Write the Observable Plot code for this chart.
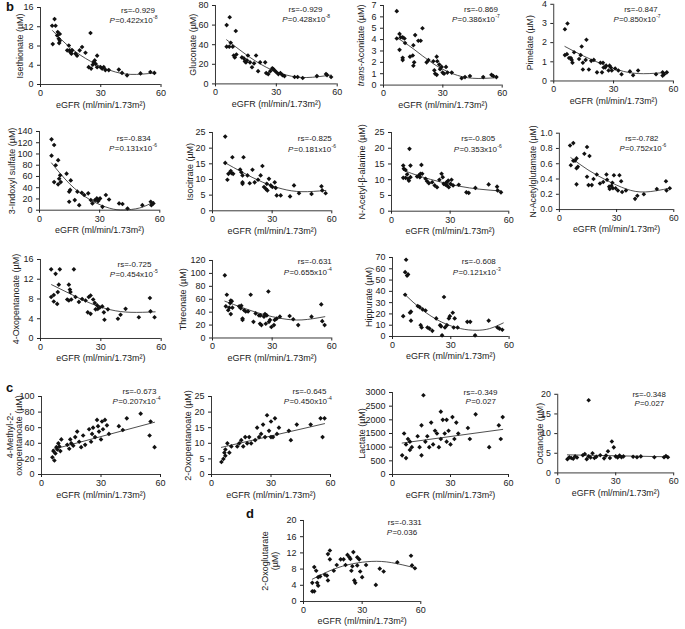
<!DOCTYPE html>
<html><head><meta charset="utf-8">
<script src="https://cdn.jsdelivr.net/npm/d3@7"></script>
<script src="https://cdn.jsdelivr.net/npm/@observablehq/plot@0.6"></script>
<style>
body{margin:0;background:#fff;}
#root{position:relative;width:685px;height:629px;overflow:hidden;font-family:"Liberation Sans",Arial,sans-serif;}
.panel{position:absolute;}
.tag{position:absolute;font-weight:bold;font-size:13px;line-height:13px;color:#111;}
</style></head><body><div id="root"></div>
<script>
// ---------------- DATA ----------------
const isethionate = [[5.8,12.2],[7.0,13.6],[7.5,12.2],[6.1,8.4],[8.6,10.9],[9.6,10.5],[8.3,10.2],[9.1,9.5],[9.3,8.6],[9.6,9.1],[14.1,8.1],[13.3,7.1],[14.4,7.1],[14.9,6.7],[15.8,7.1],[15.4,6.4],[17.4,6.4],[18.2,6.0],[19.5,7.1],[20.7,7.8],[22.4,6.6],[24.9,10.7],[24.0,3.6],[25.2,3.3],[26.0,4.1],[26.5,4.7],[27.0,5.0],[27.4,4.3],[28.2,6.0],[28.2,3.6],[29.9,3.6],[30.7,3.3],[31.5,3.6],[32.3,3.0],[34.0,3.0],[39.0,3.1],[40.6,2.4],[43.1,1.9],[49.8,2.3],[54.7,2.6],[56.7,2.4]];
const isethionateFit = [[6,11.2],[15,7.6],[25,4.8],[35,2.9],[45,2.1],[57,2.4]];

const gluconate = [[5.5,60],[7,68],[5.5,38],[6.8,38],[7.5,42],[8.5,38],[9,29],[9.5,27],[10,54],[10.3,30],[13,27],[14,26],[14.5,23],[15,22],[15.5,24],[16,29],[17,22],[18,17],[19,21],[20,29],[21,13],[22,22],[24.5,22],[25,11],[26,10],[27,13],[28,16],[28.5,15],[29,14],[30,12],[31,10],[32,11],[33,9],[34,8],[39,7],[40.5,7],[43,6],[50,8],[54.5,10],[55,9],[57,7]];
const gluconateFit = [[5.5,45],[15,30],[25,17],[35,9],[45,6.5],[57,9]];

const transAconitate = [[6.7,6.5],[6.7,4.1],[8.1,4.5],[8.7,4.2],[9.7,4.2],[10.6,4.1],[8.1,3.1],[9.7,2.4],[9.7,2.2],[10.9,3.7],[13.4,2.5],[14.8,2.6],[15.5,2.0],[15.1,1.7],[15.1,3.5],[16.0,4.4],[17.6,3.9],[18.8,3.9],[19.7,5.0],[21.8,2.0],[22.7,2.2],[25.2,2.1],[26.9,2.5],[27.2,2.1],[25.7,1.3],[26.1,1.0],[26.9,0.9],[28.2,1.8],[28.6,1.4],[29.4,1.6],[29.9,1.1],[30.6,1.0],[31.6,1.6],[32.3,1.1],[34.5,1.1],[39.5,0.6],[41.2,0.7],[43.7,0.8],[50.4,0.7],[54.6,0.9],[55.5,0.8],[57.1,0.7]];
const transAconitateFit = [[6.5,4.2],[15,3.2],[25,1.9],[35,1.0],[45,0.6],[57,0.65]];

const pimelate = [[5.6,2.7],[6.9,3.0],[5.6,1.35],[6.6,1.4],[7.7,1.2],[8.6,1.2],[9.0,1.1],[9.4,0.95],[10.2,1.5],[12.7,1.15],[13.5,1.35],[14.0,1.8],[14.6,0.95],[14.6,0.6],[16.4,2.15],[16.0,1.1],[17.6,0.6],[18.8,1.05],[20.1,1.1],[21.7,0.45],[24.2,0.45],[23.4,0.95],[24.7,0.95],[25.0,0.7],[25.8,0.7],[26.3,0.8],[27.5,0.55],[28.0,0.8],[28.6,0.7],[29.1,0.55],[30.8,0.65],[32.4,0.55],[34.0,0.35],[38.2,0.5],[39.8,0.3],[42.3,0.55],[51.3,0.35],[54.6,0.45],[55.4,0.35],[56.7,0.45],[54.6,0.28]];
const pimelateFit = [[5.6,1.8],[15,1.3],[25,0.85],[35,0.5],[45,0.38],[57,0.45]];

const indoxylSulfate = [[6.0,126],[7.3,116],[6.0,97],[7.3,50],[8.1,80],[9.3,89],[9.3,46],[9.8,56],[10.3,62],[10.6,50],[13.5,65],[14.8,33],[15.3,36],[14.8,15],[15.6,53],[17.6,18],[18.9,33],[19.8,9],[21.1,31],[22.3,27],[24.3,30],[25.6,18],[26.4,12],[27.7,18],[28.6,21],[29.7,19],[30.2,21],[29.2,16],[31.4,6],[33.1,27],[34.7,19],[39.7,12],[41.4,11],[43.9,3],[51.3,9],[55.5,15],[56.8,12],[55.8,9]];
const indoxylSulfateFit = [[6,84],[15,47],[25,19],[35,3.5],[42,0.5],[50,4],[57,15]];

const isocitrate = [[6.4,23.7],[6.4,15.3],[7.5,9.9],[8.0,11.8],[8.9,12.3],[9.7,12.0],[10.0,17.1],[10.4,11.8],[9.2,12.7],[13.9,13.2],[14.5,12.3],[15.1,11.3],[15.6,17.1],[15.1,9.1],[15.1,8.6],[17.6,11.3],[18.7,8.8],[20.1,13.1],[21.2,9.1],[22.9,9.9],[24.2,11.3],[25.1,14.3],[25.9,7.6],[26.8,7.0],[27.6,6.5],[27.3,8.6],[28.4,10.2],[29.3,8.1],[30.1,7.6],[31.3,9.1],[32.3,4.9],[34.3,4.9],[31.8,7.3],[39.0,4.6],[41.0,8.1],[43.5,5.6],[49.8,5.4],[54.8,7.8],[55.2,6.5],[56.9,5.6]];
const isocitrateFit = [[6.4,15.3],[15,12.3],[25,9.2],[35,7.0],[45,6.1],[57,6.5]];

const acetylBetaAlanine = [[6.0,14.5],[6.3,13.5],[7.2,13.1],[6.0,10.6],[7.2,10.6],[8.0,11.7],[8.9,9.7],[9.2,19.8],[9.7,14.5],[8.5,10.3],[9.7,10.8],[13.1,11.0],[14.0,11.3],[14.8,11.9],[14.5,10.8],[15.3,14.7],[15.7,11.9],[17.4,10.3],[18.2,9.5],[19.1,8.9],[20.8,9.2],[22.1,8.2],[23.3,7.6],[24.5,10.0],[25.6,11.9],[26.2,10.8],[26.7,8.7],[27.6,8.4],[28.1,9.2],[28.4,8.2],[29.0,9.7],[29.3,7.6],[30.2,8.7],[30.7,10.0],[31.5,8.2],[34.4,8.4],[38.3,6.0],[39.5,5.8],[42.9,7.4],[49.7,8.5],[54.0,7.8],[54.3,6.6],[56.0,6.0]];
const acetylBetaAlanineFit = [[6,13.0],[15,11.0],[25,9.3],[35,7.9],[45,7.0],[56,6.4]];

const acetylglutamate = [[5.6,0.84],[7.3,0.87],[6.0,0.58],[7.3,0.64],[8.2,0.64],[9.0,0.67],[9.0,0.54],[9.7,0.56],[9.0,0.33],[13.1,0.73],[14.5,0.82],[15.8,0.70],[14.5,0.43],[15.3,0.32],[17.0,0.32],[17.9,0.40],[19.6,0.46],[21.3,0.34],[23.0,0.36],[24.7,0.46],[25.0,0.39],[26.1,0.30],[26.4,0.27],[27.3,0.31],[27.8,0.35],[28.6,0.45],[28.1,0.28],[29.5,0.28],[30.7,0.25],[31.5,0.45],[32.4,0.37],[32.9,0.23],[34.9,0.25],[39.7,0.14],[40.9,0.18],[44.3,0.20],[51.1,0.27],[55.9,0.37],[56.2,0.25],[57.9,0.28]];
const acetylglutamateFit = [[6,0.68],[15,0.52],[25,0.38],[35,0.27],[45,0.23],[57.9,0.28]];

const oxopentanoate4 = [[5.3,14.0],[7.5,13.1],[9.6,14.0],[16.6,14.0],[5.3,8.4],[6.6,8.8],[6.6,7.5],[8.3,7.0],[8.6,9.4],[9.1,10.9],[14.1,10.9],[14.6,9.9],[14.9,9.4],[13.3,7.9],[14.1,7.7],[15.3,7.9],[17.4,8.4],[19.1,7.4],[20.7,8.0],[22.4,7.7],[23.5,5.3],[24.9,5.0],[24.0,8.4],[24.9,8.7],[26.2,7.9],[27.0,7.2],[27.4,5.9],[28.2,6.7],[28.5,6.0],[29.5,6.3],[30.7,6.5],[31.5,5.3],[31.8,3.8],[33.5,5.9],[38.5,4.0],[39.8,4.8],[42.3,6.0],[48.9,4.3],[54.4,8.2],[54.7,5.5],[56.7,4.3]];
const oxopentanoate4Fit = [[5.5,10.9],[15,9.0],[25,7.1],[35,5.8],[45,5.3],[57,5.4]];

const threonate = [[6.2,97],[6.7,49],[7.2,67],[7.9,43],[8.9,54],[9.2,58],[9.7,57],[9.2,37],[10.0,47],[8.4,47],[13.4,49],[14.2,46],[14.5,50],[15.1,30],[15.1,28],[15.9,43],[16.7,41],[17.9,41],[19.2,67],[20.6,25],[21.7,38],[23.4,35],[23.9,22],[24.2,35],[24.6,20],[25.9,33],[26.4,37],[26.8,22],[27.3,35],[28.1,72],[28.4,25],[28.9,28],[29.6,17],[30.9,20],[31.3,28],[32.3,30],[33.9,33],[38.8,34],[40.6,29],[43.1,20],[49.8,33],[54.7,52],[55.2,26],[56.4,20]];
const threonateFit = [[6.2,57],[15,47],[25,37],[35,30],[45,28],[56.5,33]];

const hippurate = [[5.5,18],[6.5,37],[6.5,57],[7.5,54],[8,55],[7,68],[9,21],[9.5,22],[9.5,14],[13,27],[14,26],[14.5,10],[15,8],[15.5,24],[17,23],[18,8],[19,7],[20.5,5],[22.5,16],[24.5,10],[25,9],[25.5,1],[26.5,35],[27,8],[28,10],[29,16],[29.5,18],[31,21],[31.5,8],[32,16],[33.5,8],[38.5,13],[40,13],[42.5,1],[49.5,14],[54,8],[55,7],[56.5,6]];
const hippurateFit = [[6.5,37],[15,24],[25,13],[35,7],[43,5.5],[50,7],[57,12]];

const methylOxopentanoate = [[5.5,22],[6,30],[6.5,18],[7,27],[7.5,35],[8,32],[8.5,40],[9,36],[9.5,30],[10,45],[13,38],[14,33],[14.5,45],[15,40],[16,37],[17,48],[18,55],[19,42],[20,35],[21,50],[22,38],[24,58],[25,42],[25.5,52],[26,60],[27,48],[28,70],[28.5,62],[29,55],[30,45],[30.5,68],[31,58],[32,70],[33,63],[34,52],[39,62],[41,57],[43,72],[50,78],[54.5,50],[55,68],[57,35]];
const methylOxopentanoateFit = [[5.5,32],[57,67]];

const oxopentanoate2 = [[5,4],[6,5],[6.5,7],[7,6],[7,8],[8,10],[9,7],[10,9],[13,9],[14,10],[15,11],[16,9],[17,12],[18,10],[19,12],[20,10],[22,11],[23,15],[24,12],[25,13],[26,16],[27,12],[28,19],[29,14],[30,12],[30,17],[31,12],[32,18],[33,13],[34,15],[39,14],[40,11],[43,16],[50,16],[55,18],[56,12],[57,18]];
const oxopentanoate2Fit = [[5,8.7],[57,16.3]];

const lactate = [[5,700],[6,1500],[7,1100],[7,600],[8,1300],[9,900],[9,1200],[10,1000],[13,1400],[14,1000],[15,1800],[15,700],[16,2900],[17,1200],[18,1400],[19,1000],[20,1900],[21,1100],[22,1600],[23,1500],[24,1000],[25,2300],[25,1300],[26,2000],[27,1500],[28,1200],[28,2000],[29,1600],[30,1100],[31,2100],[32,1300],[33,1900],[34,1500],[39,1700],[40,1300],[43,2200],[50,1000],[55,1800],[56,1300],[57,2100]];
const lactateFit = [[5,1150],[57,1650]];

const octanoate = [[5,3.5],[6,4],[7,3.8],[8,3.6],[9,4.2],[10,3.9],[13,4.5],[14,4.8],[15,3.5],[16,18.5],[16,4.2],[17,3.9],[18,5],[19,3.8],[20,4.1],[22,4.5],[24,3.7],[25,4.4],[26,5.5],[27,3.8],[28,8],[29,6.5],[30,4.2],[31,3.9],[32,4.4],[33,4],[34,4.2],[39,4.1],[41,4],[43,4.2],[50,4],[55,4],[56,4.3],[57,4]];
const octanoateFit = [[5,4.6],[57,4.1]];

const oxoglutarate = [[4.5,4.6],[4.5,2.5],[5.5,2.5],[5.5,8.5],[6.5,7.6],[7,4.6],[7.5,3.9],[7.5,6.0],[8.5,6.2],[11,6.6],[12,6.4],[12.5,5.2],[12.5,11.7],[13.5,12.6],[13.5,10.4],[15.5,7.6],[17,9.0],[19,10.4],[20.5,10.4],[21.5,9.0],[22.5,11.5],[23.5,10.9],[24,10.5],[24.5,7.6],[25,8.7],[25.5,12.2],[26,5.2],[26.5,4.6],[27.5,8.9],[27.5,10.9],[28.5,10.4],[29,7.4],[30,6.0],[32,9.0],[37,4.1],[39,8.1],[41,7.4],[48,9.7],[55,11.3],[55.5,8.9],[57,8.2]];
const oxoglutarateFit = [[4.5,5.5],[15,7.9],[25,9.3],[35,9.9],[45,9.6],[57,8.3]];

const yLabels = ["Isethionate (µM)","Gluconate (µM)","*trans*-Aconitate (µM)","Pimelate (µM)","3-Indoxyl sulfate (µM)","Isocitrate (µM)","N-Acetyl-β-alanine (µM)","N-Acetylglutamate (µM)","4-Oxopentanoate (µM)","Threonate (µM)","Hippurate (µM)","4-Methyl-2-\noxopentanoate (µM)","2-Oxopentanoate (µM)","Lactate (µM)","Octanoate (µM)","2-Oxoglutarate\n(µM)"];
const yMax = [16,80,7,4,140,25,25,1.0,16,120,70,100,25,3000,20,20];
const yStep = [4,20,1,1,20,5,5,0.2,4,20,10,20,5,500,5,4];
const xTicks = [0,30,60];
const xLabel = "eGFR (ml/min/1.73m²)";
const rsValues = ["-0.929","-0.929","-0.869","-0.847","-0.834","-0.825","-0.805","-0.782","-0.725","-0.631","-0.608","-0.673","-0.645","-0.349","-0.348","-0.331"];
const pMantissa = ["0.422","0.428","0.386","0.850","0.131","0.181","0.353","0.752","0.454","0.655","0.121","0.207","0.450","0.027","0.027","0.036"];
const pExponent = ["-8","-8","-7","-7","-6","-6","-6","-6","-5","-4","-3","-4","-4","","",""];
const seriesPoints = [isethionate,gluconate,transAconitate,pimelate,indoxylSulfate,isocitrate,acetylBetaAlanine,acetylglutamate,oxopentanoate4,threonate,hippurate,methylOxopentanoate,oxopentanoate2,lactate,octanoate,oxoglutarate];
const seriesFits = [isethionateFit,gluconateFit,transAconitateFit,pimelateFit,indoxylSulfateFit,isocitrateFit,acetylBetaAlanineFit,acetylglutamateFit,oxopentanoate4Fit,threonateFit,hippurateFit,methylOxopentanoateFit,oxopentanoate2Fit,lactateFit,octanoateFit,oxoglutarateFit];
const fitCurve = ["natural","natural","natural","natural","natural","natural","natural","natural","natural","natural","natural","linear","linear","linear","linear","natural"];
const panelTags = ["b","c","d"];

// ---------------- LAYOUT (page pixels) ----------------
const layout = [
 {x0:40, x60:160.5, yTop:7, yBot:84, lab:[19.5], rs:[137.5,6.7], p:[109,16.5]},
 {x0:215, x60:336.7, yTop:5.3, yBot:83.7, lab:[192.7], rs:[305,5.9], p:[281.7,16]},
 {x0:383.3, x60:502, yTop:4.7, yBot:84.3, lab:[360.7], rs:[480.8,5.7], p:[451.7,16]},
 {x0:554.3, x60:676, yTop:4, yBot:82, lab:[530], rs:[643,6.5], p:[615,16.5]},
 {x0:38.7, x60:159, yTop:131.3, yBot:210, lab:[11.7], rs:[133,135.2], p:[108.3,145.5]},
 {x0:211.7, x60:331, yTop:132, yBot:210.3, lab:[189.3], rs:[314,135.2], p:[287.3,145.5]},
 {x0:391, x60:508.3, yTop:132, yBot:210.7, lab:[361.7], rs:[477.7,135.2], p:[453.3,145.5]},
 {x0:560, x60:677.3, yTop:132.7, yBot:211, lab:[533.3], rs:[644.5,135.2], p:[621.7,145.5]},
 {x0:40, x60:160.7, yTop:259, yBot:338, lab:[16], rs:[134,260.7], p:[109.3,271]},
 {x0:211.7, x60:331, yTop:260, yBot:337.5, lab:[182.7], rs:[314,258.2], p:[283,268.5]},
 {x0:391.7, x60:508.3, yTop:257, yBot:336, lab:[368.3], rs:[478,258.2], p:[452,268.5]},
 {x0:41, x60:160, yTop:396, yBot:474, lab:[10,19], rs:[139,388.2], p:[112,398]},
 {x0:211, x60:330, yTop:396, yBot:474, lab:[188], rs:[309,388.2], p:[283.3,398]},
 {x0:392, x60:508, yTop:392, yBot:474, lab:[362], rs:[480,389], p:[465,398]},
 {x0:558, x60:676, yTop:394, yBot:474, lab:[540], rs:[651,391], p:[636,400]},
 {x0:302.7, x60:420, yTop:520, yBot:601, lab:[264,274], rs:[404,519], p:[386,528.5]}
];
const tagPos = [[6,0],[6,381],[246,507]];

// ---------------- RENDER ----------------
const FONT = '"Liberation Sans", Arial, sans-serif';
const INK = "#222";
const root = document.getElementById("root");
const ctx = document.createElement("canvas").getContext("2d");
function textWidth(t, size, italic) {
  ctx.font = `${italic ? "italic " : ""}${size}px "Liberation Sans"`;
  return ctx.measureText(t).width;
}
function parseSegs(s) {
  return s.split("*").map((t, i) => ({t, italic: i % 2 === 1})).filter(d => d.t.length);
}

seriesPoints.forEach((pts, i) => {
  const L = layout[i];
  const mL = 45, mR = 12, mT = 12, mB = 30;
  const fw = L.x60 - L.x0, fh = L.yBot - L.yTop;
  const W = mL + fw + mR, H = mT + fh + mB;
  const ticks = d3.range(0, yMax[i] + yStep[i] / 2, yStep[i]);
  const fmt = yMax[i] <= 1 ? d3.format(".1f") : d3.format("d");
  const marks = [
    Plot.ruleY([0], {stroke: INK, strokeWidth: 0.9}),
    Plot.ruleX([0], {stroke: INK, strokeWidth: 0.9}),
    Plot.axisX({ticks: xTicks, tickSize: 3, tickPadding: 2, label: null, tickFormat: d3.format("d")}),
    Plot.axisY({ticks, tickSize: 3, tickPadding: 4, label: null, tickFormat: fmt}),
    Plot.line(seriesFits[i], {x: d => d[0], y: d => d[1], curve: fitCurve[i], stroke: INK, strokeWidth: 0.8}),
    Plot.dot(pts, {x: d => d[0], y: d => d[1], symbol: "diamond2", r: 2.1, fill: "#111", stroke: null}),
    Plot.text([xLabel], {frameAnchor: "bottom", dy: 23, fontSize: 9, fill: INK})
  ];
  // y label (possibly multi-line, with italic parts)
  yLabels[i].split("\n").forEach((line, li) => {
    const dx = L.lab[li] - L.x0;
    const segs = parseSegs(line);
    const widths = segs.map(s => textWidth(s.t, 9, s.italic));
    const total = d3.sum(widths);
    let cum = 0;
    segs.forEach((s, si) => {
      marks.push(Plot.text([s.t], {frameAnchor: "left", dx, dy: total / 2 - cum, rotate: -90,
        textAnchor: "start", fontSize: 9, fontStyle: s.italic ? "italic" : "normal", fill: INK}));
      cum += widths[si];
    });
  });
  // rs annotation
  marks.push(Plot.text(["rs=" + rsValues[i]], {frameAnchor: "top-left", dx: L.rs[0] - L.x0, dy: L.rs[1] - L.yTop,
    textAnchor: "middle", fontSize: 8, fill: INK}));
  // P annotation: italic P, value, superscript exponent
  const segP = [{t: "P", italic: true, size: 8, raise: 0},
                {t: "=" + pMantissa[i] + (pExponent[i] ? "x10" : ""), italic: false, size: 8, raise: 0}];
  if (pExponent[i]) segP.push({t: pExponent[i], italic: false, size: 5, raise: -2});
  let px = L.p[0] - L.x0;
  segP.forEach(s => {
    marks.push(Plot.text([s.t], {frameAnchor: "top-left", dx: px, dy: L.p[1] - L.yTop + s.raise,
      textAnchor: "start", fontSize: s.size, fontStyle: s.italic ? "italic" : "normal", fill: INK}));
    px += textWidth(s.t, s.size, s.italic) + 0.3;
  });

  const svg = Plot.plot({
    width: W, height: H, marginLeft: mL, marginRight: mR, marginTop: mT, marginBottom: mB,
    x: {domain: [0, 60]},
    y: {domain: [0, yMax[i]]},
    style: {fontFamily: FONT, fontSize: "9px", color: INK, background: "transparent", overflow: "visible"},
    marks
  });
  const div = document.createElement("div");
  div.className = "panel";
  div.style.left = (L.x0 - mL) + "px";
  div.style.top = (L.yTop - mT) + "px";
  div.appendChild(svg);
  root.appendChild(div);
});

panelTags.forEach((t, i) => {
  const d = document.createElement("div");
  d.className = "tag";
  d.textContent = t;
  d.style.left = tagPos[i][0] + "px";
  d.style.top = tagPos[i][1] + "px";
  root.appendChild(d);
});
</script>
</body></html>
